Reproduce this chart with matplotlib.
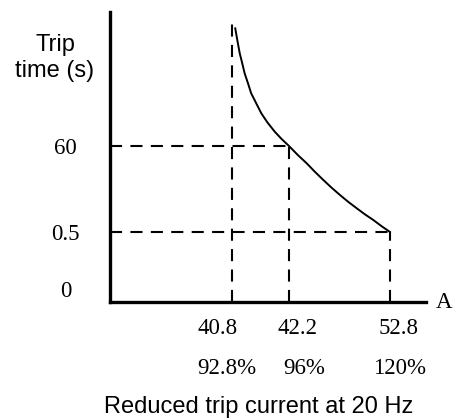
import numpy as np
import matplotlib
matplotlib.use('Agg')
import matplotlib.pyplot as plt

# data
current_A = [40.8, 42.2, 52.8]
current_pct = ['92.8%', '96%', '120%']
trip_ticks = [0, 0.5, 60]
trip_labels = ['0', '0.5', '60']

curve_A = [40.88, 40.93, 40.99, 41.05, 41.11, 41.19, 41.27, 41.39, 41.52, 41.67, 41.85,
           42.02, 42.2, 43.12, 44.06, 44.91, 45.8, 46.66, 47.55, 48.41, 49.31, 50.17,
           51.05, 51.92, 52.8]
curve_t = [141.4, 133.3, 124.1, 117.4, 110.3, 103.6, 96.5, 89.8, 82.6, 76.3, 69.9,
           64.8, 60.0, 53.8, 48.0, 42.2, 36.5, 31.2, 26.1, 21.4, 16.9, 12.7,
           8.8, 4.5, 0.5]

SERIF = 'Liberation Serif'
SANS = 'Liberation Sans'

# schematic (not to scale) axes: piecewise linear mapping
X_VALS = [0, 40.8, 42.2, 52.8, 60]
X_POS = [0, 122, 179, 280, 348.6]
Y_VALS = [0, 0.5, 60, 200]
Y_POS = [0, 70, 156, 358.4]


def fwd(vals, pos):
    return lambda v: np.interp(v, vals, pos)


def inv(vals, pos):
    return lambda p: np.interp(p, pos, vals)


fig = plt.figure(figsize=(4.59, 4.18), dpi=100)
ax = fig.add_axes([110 / 459, 116 / 418, 316 / 459, 290 / 418])
ax.set_xscale('function', functions=(fwd(X_VALS, X_POS), inv(X_VALS, X_POS)))
ax.set_yscale('function', functions=(fwd(Y_VALS, Y_POS), inv(Y_VALS, Y_POS)))
ax.set_xlim(0, inv(X_VALS, X_POS)(316))
ax.set_ylim(0, inv(Y_VALS, Y_POS)(290))

for s in ['top', 'right']:
    ax.spines[s].set_visible(False)
for s in ['left', 'bottom']:
    ax.spines[s].set_linewidth(2.4)

dash = dict(color='black', linewidth=1.5, dashes=(5.8, 4.0))
# guide lines
ax.plot([current_A[0], current_A[0]], [0, 147], **dash)
ax.plot([current_A[1], current_A[1]], [0, trip_ticks[2]], **dash)
ax.plot([current_A[2], current_A[2]], [0, trip_ticks[1]], **dash)
ax.plot([0, current_A[1]], [trip_ticks[2]] * 2, **dash)
ax.plot([0, current_A[2]], [trip_ticks[1]] * 2, **dash)

ax.plot(curve_A, curve_t, color='black', linewidth=1.4, clip_on=False,
        solid_joinstyle='round')

ax.set_xticks([])
ax.set_yticks(trip_ticks)
ax.set_yticklabels(trip_labels, fontfamily=SERIF, fontsize=16.5, ha='center')
ax.tick_params(axis='y', length=0, pad=32)
ax.get_yticklabels()[0].set_va('bottom')

num_dx = [-14, 9, 9]
pct_dx = [-5, 15, 10]
for a, p, dx1, dx2 in zip(current_A, current_pct, num_dx, pct_dx):
    ax.annotate(f'{a}', xy=(a, 0), xycoords=('data', 'axes fraction'),
                xytext=(dx1, -26), textcoords='offset pixels',
                ha='center', va='center', fontfamily=SERIF, fontsize=16.5)
    ax.annotate(p, xy=(a, 0), xycoords=('data', 'axes fraction'),
                xytext=(dx2, -66), textcoords='offset pixels',
                ha='center', va='center', fontfamily=SERIF, fontsize=16.5)

ax.text(1.057, 0, 'A', transform=ax.transAxes, ha='center', va='center',
        fontfamily=SERIF, fontsize=16.5)

fig.text(55 / 459, 1 - 58 / 418, 'Trip\ntime (s)', ha='center', va='center',
         fontfamily=SANS, fontsize=17, linespacing=1.2)
fig.text(259 / 459, 1 - 407 / 418, 'Reduced trip current at 20 Hz',
         ha='center', va='center', fontfamily=SANS, fontsize=17)

fig.savefig('out.png', dpi=100)
